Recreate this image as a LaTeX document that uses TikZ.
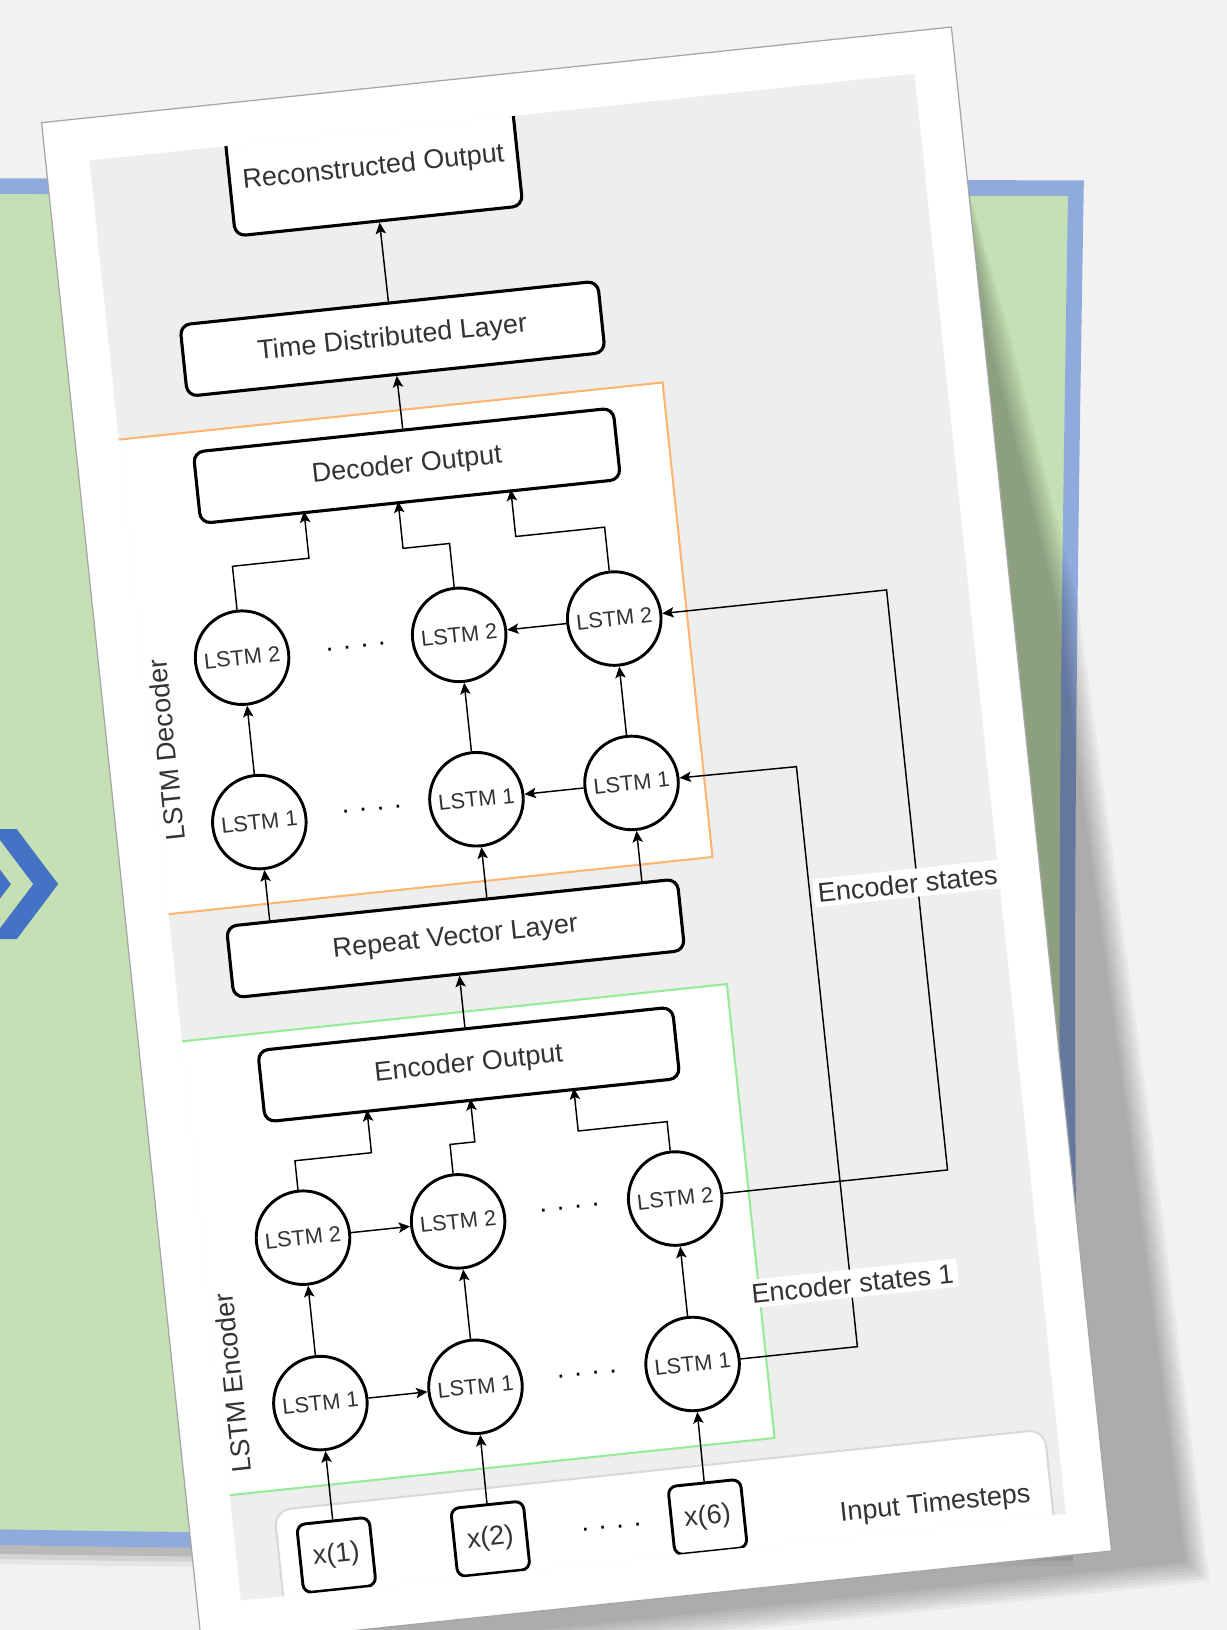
\documentclass[tikz,border=0pt]{standalone}
\usepackage{fontspec}
\setmainfont{Liberation Sans}
\usetikzlibrary{arrows.meta, calc}
\definecolor{bggray}{HTML}{F2F2F2}
\definecolor{panelgray}{HTML}{EEEEEE}
\definecolor{bannergreen}{HTML}{C5E0B4}
\definecolor{bannerblue}{HTML}{8FAADC}
\definecolor{chevblue}{HTML}{4472C4}
\definecolor{decorange}{HTML}{FFB570}
\definecolor{encgreen}{RGB}{150,235,150}
\definecolor{txtgray}{HTML}{333333}
\tikzset{
  layer/.style={draw, rectangle, rounded corners=5pt, line width=1.5pt, fill=white,
    minimum width=202pt, minimum height=34.5pt, text=txtgray, font=\fontsize{13}{15}\selectfont},
  cell/.style={draw, circle, line width=1.4pt, fill=white, minimum size=45pt, inner sep=0pt,
    text=txtgray, font=\fontsize{10.5}{12}\selectfont},
  inbox/.style={draw, rectangle, rounded corners=4pt, line width=1.4pt, fill=white,
    minimum width=35pt, minimum height=33pt, text=txtgray, font=\fontsize{13}{15}\selectfont},
  note/.style={text=txtgray, font=\fontsize{13}{15}\selectfont},
  dots/.style={text=black, inner sep=0pt, font=\fontsize{13}{15}\selectfont},
  statelabel/.style={note, fill=white, inner sep=2pt},
  flow/.style={-{Stealth[length=5.5pt, width=5pt, inset=1.2pt]}, line width=0.7pt},
  decframe/.style={draw=decorange, line width=1pt, fill=white},
  encframe/.style={draw=encgreen, line width=1pt, fill=white},
  inarea/.style={draw=black!15, line width=1pt, fill=white, rounded corners=8pt},
}

\begin{document}
\begin{tikzpicture}[x=0.5pt, y=-0.5pt]
  \useasboundingbox (0,0) rectangle (1180,1568);
  \fill[bggray] (0,0) rectangle (1180,1568);

  % green banner behind the card
  \foreach \o/\a in {6/.12, 11/.08, 16/.05}
    \draw[black, opacity=\a, line width=10pt] (-30,1478+\o) .. controls (200,1483+\o) and (600,1485+\o) .. (1032,1480+\o);
  \draw[bannerblue, line width=7.5pt, fill=bannergreen]
    (-30,179) -- (1035,181) .. controls (1028,600) and (1022,1000) .. (1032,1480)
    .. controls (600,1485) and (200,1483) .. (-30,1478) -- cycle;
  \foreach \dx in {0,-45.5}
    \fill[chevblue, shift={(\dx,0)}] (-8,797.5) -- (16,797.5) -- (56,850.5) -- (16,903.5) -- (-8,903.5) -- (32,850.5) -- cycle;

  % the tilted card
  \begin{scope}[shift={(40,118)}, rotate=6, transform shape]
    % soft drop shadow
    \foreach \e in {0,3,...,21}
      \fill[black, opacity=.04] (870,{120-\e}) -- ({884+\e},300) -- ({922+\e},560) -- ({940+\e},1100)
        -- ({950+\e},{1492+\e}) -- (0,{1492+\e}) -- (0,120) -- cycle;
    \filldraw[fill=white, draw=gray!70, line width=.6pt] (0,0) rectangle (880,1474);
    \fill[panelgray] (42,41) rectangle (840,1434);

    \begin{scope}
      \clip (42,41) rectangle (840,1434);
      \filldraw[decframe] (0,311) rectangle (568,770);
      \filldraw[encframe] (0,893) rectangle (569,1332);
      \filldraw[inarea] (83,1351) rectangle (828,1480);

      % output side
      \node[layer, minimum width=139pt, minimum height=51pt] (recon) at (313,77) {Reconstructed Output};
      \node[layer] (tdl) at (314,242) {Time Distributed Layer};
      \node[layer, minimum width=203pt] (decout) at (315,365) {Decoder Output};

      % decoder
      \node[cell] (d2a) at (138,532) {LSTM 2};
      \node[cell] (d2b) at (348,532) {LSTM 2};
      \node[cell] (d2c) at (498,532) {LSTM 2};
      \node[cell] (d1a) at (138,691) {LSTM 1};
      \node[cell] (d1b) at (348,691) {LSTM 1};
      \node[cell] (d1c) at (498,691) {LSTM 1};
      \node[dots] (dd2) at (248,533) {. . . .};
      \node[dots] (dd1) at (247,690) {. . . .};
      \node[note, rotate=90] (declbl) at (56,613) {LSTM Decoder};

      \node[layer, minimum width=218pt] (rv) at (314,822) {Repeat Vector Layer};
      \node[layer, minimum width=200.5pt] (encout) at (314,944) {Encoder Output};

      % encoder
      \node[cell] (e2a) at (138,1093) {LSTM 2};
      \node[cell] (e2b) at (288,1093) {LSTM 2};
      \node[cell] (e2c) at (498,1093) {LSTM 2};
      \node[cell] (e1a) at (138,1253) {LSTM 1};
      \node[cell] (e1b) at (288,1253) {LSTM 1};
      \node[cell] (e1c) at (498,1253) {LSTM 1};
      \node[dots] (de2) at (396,1091) {. . . .};
      \node[dots] (de1) at (396,1252) {. . . .};
      \node[note, rotate=90] (enclbl) at (56,1225) {LSTM Encoder};

      % inputs
      \node[inbox] (x1) at (138,1400) {x(1)};
      \node[inbox] (x2) at (287,1400) {x(2)};
      \node[inbox] (x6) at (497,1401) {x(6)};
      \node[dots] (dx) at (404,1401) {. . . .};
      \node[note] (inlbl) at (716,1412) {Input Timesteps};

      % connections
      \draw[flow] (tdl) -- (recon);
      \draw[flow] (decout) -- (tdl);
      \draw[flow] (d2a.north) -- ++(0,-42) -- ++(74,0) -- ++(0,-45.5);
      \draw[flow] (d2b.north) -- ++(0,-42) -- ++(-45,0) -- ++(0,-45.5);
      \draw[flow] (d2c.north) -- ++(0,-42) -- ++(-86,0) -- ++(0,-45.5);
      \foreach \c in {a,b,c}
        \draw[flow] (d1\c) -- (d2\c);
      \draw[flow] (d2c) -- (d2b);
      \draw[flow] (d1c) -- (d1b);
      \foreach \c in {a,b,c}
        \draw[flow] ($(rv.north west)!(d1\c)!(rv.north east)$) -- (d1\c);
      \draw[flow] (encout) -- (rv);
      \draw[flow] (e2a.north) -- ++(0,-28) -- ++(74,0) -- ++(0,-41.5);
      \draw[flow] (e2b.north) -- ++(0,-28) -- ++(24,0) -- ++(0,-41.5);
      \draw[flow] (e2c.north) -- ++(0,-28) -- ++(-86,0) -- ++(0,-41.5);
      \foreach \c in {a,b,c}
        \draw[flow] (e1\c) -- (e2\c);
      \draw[flow] (e2a) -- (e2b);
      \draw[flow] (e1a) -- (e1b);
      \draw[flow] (x1) -- (e1a);
      \draw[flow] (x2) -- (e1b);
      \draw[flow] (x6) -- (e1c);
      \draw[flow] (e2c.east) -- ++(217,0) -- ++(0,-561) -- (d2c.east);
      \draw[flow] (e1c.east) -- ++(113,0) -- ++(0,-561) -- (d1c.east);
      \node[statelabel] (lblst) at (752,815) {Encoder states};
      \node[statelabel] (lblst1) at (659,1192) {Encoder states 1};
    \end{scope}
  \end{scope}
\end{tikzpicture}
\end{document}
